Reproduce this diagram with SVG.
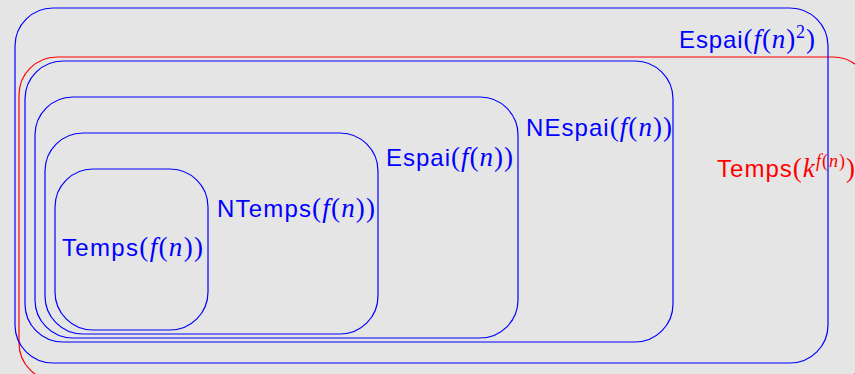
<svg xmlns="http://www.w3.org/2000/svg" width="855" height="374" viewBox="0 0 855 374">
<style>
.bg{fill:#e5e5e5}
.box{fill:none;stroke-width:1.2}
.blue{stroke:#0000ff}
.red{stroke:#ff0000}
.lb{fill:#0000ff}
.lr{fill:#ff0000}
text{font-size:24px;font-family:"Liberation Sans",Arial,sans-serif}
.m{font-family:"Liberation Serif","Times New Roman",serif;font-size:27px}
.mi{font-family:"Liberation Serif","Times New Roman",serif;font-size:27px;font-style:italic}
.sup{font-family:"Liberation Serif","Times New Roman",serif;font-size:18px}
.supi{font-family:"Liberation Serif","Times New Roman",serif;font-size:18px;font-style:italic}
</style>
<rect class="bg" x="0" y="0" width="855" height="374"/>
<g id="temps-k">
<rect class="box red" x="19" y="57" width="852" height="324" rx="38" ry="38"/>
<text class="lr" x="717" y="177" textLength="138" lengthAdjust="spacing">Temps<tspan class="m">(</tspan><tspan class="mi">k</tspan><tspan class="supi" dy="-10">f</tspan><tspan class="sup">(</tspan><tspan class="supi">n</tspan><tspan class="sup">)</tspan><tspan class="m" dy="10">)</tspan></text>
</g>
<g id="espai-f2">
<rect class="box blue" x="15" y="8" width="813" height="355" rx="38" ry="38"/>
<text class="lb" x="679" y="47.5" textLength="136" lengthAdjust="spacing">Espai<tspan class="m">(</tspan><tspan class="mi">f</tspan><tspan class="m">(</tspan><tspan class="mi">n</tspan><tspan class="m">)</tspan><tspan class="sup" dy="-10">2</tspan><tspan class="m" dy="10">)</tspan></text>
</g>
<g id="nespai">
<rect class="box blue" x="25" y="61" width="648" height="281" rx="38" ry="38"/>
<text class="lb" x="526" y="135.5" textLength="146" lengthAdjust="spacing">NEspai<tspan class="m">(</tspan><tspan class="mi">f</tspan><tspan class="m">(</tspan><tspan class="mi">n</tspan><tspan class="m">))</tspan></text>
</g>
<g id="espai">
<rect class="box blue" x="35" y="97" width="483" height="241" rx="38" ry="38"/>
<text class="lb" x="386" y="166" textLength="127" lengthAdjust="spacing">Espai<tspan class="m">(</tspan><tspan class="mi">f</tspan><tspan class="m">(</tspan><tspan class="mi">n</tspan><tspan class="m">))</tspan></text>
</g>
<g id="ntemps">
<rect class="box blue" x="45" y="133" width="333" height="201" rx="38" ry="38"/>
<text class="lb" x="217" y="216.5" textLength="158" lengthAdjust="spacing">NTemps<tspan class="m">(</tspan><tspan class="mi">f</tspan><tspan class="m">(</tspan><tspan class="mi">n</tspan><tspan class="m">))</tspan></text>
</g>
<g id="temps">
<rect class="box blue" x="55" y="169" width="153" height="161" rx="38" ry="38"/>
<text class="lb" x="62" y="256" textLength="141" lengthAdjust="spacing">Temps<tspan class="m">(</tspan><tspan class="mi">f</tspan><tspan class="m">(</tspan><tspan class="mi">n</tspan><tspan class="m">))</tspan></text>
</g>
</svg>
